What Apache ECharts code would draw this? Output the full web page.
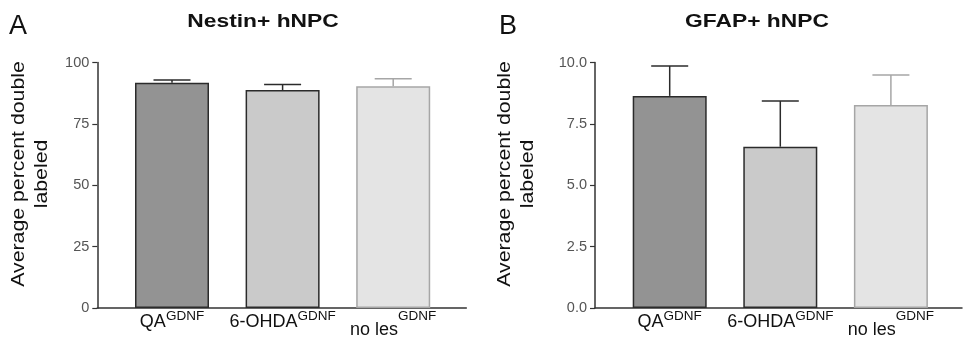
<!DOCTYPE html>
<html><head><meta charset="utf-8">
<script src="https://cdn.jsdelivr.net/npm/echarts@6/dist/echarts.min.js"></script>
<style>html,body{margin:0;padding:0;background:#fff}#c{width:963px;height:347px}</style>
</head><body><div id="c"></div>
<script>
// ---- data ----
const categories = ['QA', '6-OHDA', 'no les'];
const superscript = 'GDNF';
const nestinMean = [91.8, 88.8, 90.3];
const nestinSem = [1.1, 2.2, 3.1];
const gfapMean = [8.64, 6.57, 8.27];
const gfapSem = [1.22, 1.86, 1.22];
const nestinTicks = [0, 25, 50, 75, 100];
const gfapTicks = [0.0, 2.5, 5.0, 7.5, 10.0];
const panelTitles = ['Nestin+ hNPC', 'GFAP+ hNPC'];
const panelLetters = ['A', 'B'];
const yTitleLines = ['Average percent double', 'labeled'];

// ---- styles ----
const FONT = 'Liberation Sans, Arial, sans-serif';
const fillColors = ['#939393', '#cacaca', '#e4e4e4'];
const borderColors = ['#2b2b2b', '#2b2b2b', '#a6a6a6'];
const errColors = ['#2b2b2b', '#2b2b2b', '#a6a6a6'];
const axisColor = '#333';

const chart = echarts.init(document.getElementById('c'), null, {renderer: 'canvas'});

const TOP = 62.5, BOTTOM = 39;

function baseGrid(left, width) {
  return {left: left, top: TOP, width: width, bottom: BOTTOM, containLabel: false, outerBoundsMode: 'none'};
}

function catXAxis(grid) {
  return {
    gridIndex: grid, type: 'category', data: categories,
    axisLine: {show: false}, axisTick: {show: false}, splitLine: {show: false},
    axisLabel: {
      margin: 1, interval: 0, hideOverlap: false,
      formatter: function (v, i) { return (i === 2 ? '{low|' : '{b|') + v + '}{sup|' + superscript + '}'; },
      rich: {
        b: {fontFamily: FONT, fontSize: 18, color: '#111', lineHeight: 22, verticalAlign: 'bottom'},
        low: {fontFamily: FONT, fontSize: 18, color: '#111', lineHeight: 30, verticalAlign: 'bottom'},
        sup: {fontFamily: FONT, fontSize: 13.5, color: '#111', lineHeight: 14, verticalAlign: 'top'}
      }
    }
  };
}
function lineXAxis(grid) {
  return {
    gridIndex: grid, type: 'value', min: 0, max: 1,
    axisLine: {show: true, lineStyle: {color: axisColor, width: 1.5}},
    axisTick: {show: false}, axisLabel: {show: false}, splitLine: {show: false}
  };
}
function valYAxis(grid, ticks, decimals, visible) {
  return {
    gridIndex: grid, type: 'value', min: ticks[0], max: ticks[ticks.length - 1],
    interval: ticks[1] - ticks[0], show: visible,
    axisLine: {show: true, lineStyle: {color: axisColor, width: 1.5}},
    axisTick: {show: true, length: 5, lineStyle: {color: axisColor, width: 1.2}},
    splitLine: {show: false},
    axisLabel: {margin: 8, fontFamily: FONT, fontSize: 14.5, color: '#555',
      formatter: function (v) { return v.toFixed(decimals); }}
  };
}

function barSeries(grid, means) {
  return {
    type: 'bar', xAxisIndex: grid, yAxisIndex: grid, barWidth: 74, silent: true,
    data: means.map(function (m, i) {
      return {value: m, itemStyle: {color: fillColors[i], borderColor: borderColors[i], borderWidth: 1.5}};
    }),
    z: 2
  };
}
function errSeries(grid, means, sems) {
  return {
    type: 'custom', xAxisIndex: grid, yAxisIndex: grid, silent: true, z: 3,
    encode: {x: 0, y: 1},
    data: means.map(function (m, i) { return [i, m, sems[i]]; }),
    renderItem: function (params, api) {
      const i = api.value(0), m = api.value(1), s = api.value(2);
      const p0 = api.coord([i, m]);
      const p1 = api.coord([i, m + s]);
      const half = 18.5;
      const st = {stroke: errColors[params.dataIndex], lineWidth: 1.5};
      return {type: 'group', children: [
        {type: 'line', shape: {x1: p0[0], y1: p0[1], x2: p1[0], y2: p1[1]}, style: st},
        {type: 'line', shape: {x1: p1[0] - half, y1: p1[1], x2: p1[0] + half, y2: p1[1]}, style: st}
      ]};
    }
  };
}

function txt(x, y, text, font, align, vAlign, rot, sx) {
  return {type: 'text', x: x, y: y, rotation: rot || 0, scaleX: sx || 1, silent: true,
    style: {text: text, font: font, fill: '#111', align: align, verticalAlign: vAlign,
            textAlign: align, textVerticalAlign: vAlign}};
}

chart.setOption({
  backgroundColor: '#fff',
  animation: false,
  grid: [baseGrid(97.3, 369), baseGrid(116.7, 331.8), baseGrid(595, 367), baseGrid(614.4, 331.8)],
  xAxis: [lineXAxis(0), catXAxis(1), lineXAxis(2), catXAxis(3)],
  yAxis: [valYAxis(0, nestinTicks, 0, true), valYAxis(1, nestinTicks, 0, false),
          valYAxis(2, gfapTicks, 1, true), valYAxis(3, gfapTicks, 1, false)],
  series: [barSeries(1, nestinMean), errSeries(1, nestinMean, nestinSem),
           barSeries(3, gfapMean), errSeries(3, gfapMean, gfapSem)],
  graphic: [
    txt(9, 27, panelLetters[0], '27px ' + FONT, 'left', 'middle'),
    txt(263, 22, panelTitles[0], 'bold 19px ' + FONT, 'center', 'middle', 0, 1.2),
    txt(499, 27, panelLetters[1], '27px ' + FONT, 'left', 'middle'),
    txt(757, 22, panelTitles[1], 'bold 19px ' + FONT, 'center', 'middle', 0, 1.2),
    txt(18.5, 174, yTitleLines[0], '19px ' + FONT, 'center', 'middle', Math.PI / 2, 1.12),
    txt(42, 174, yTitleLines[1], '19px ' + FONT, 'center', 'middle', Math.PI / 2, 1.12),
    txt(505, 174, yTitleLines[0], '19px ' + FONT, 'center', 'middle', Math.PI / 2, 1.12),
    txt(528, 174, yTitleLines[1], '19px ' + FONT, 'center', 'middle', Math.PI / 2, 1.12)
  ]
});
</script></body></html>
